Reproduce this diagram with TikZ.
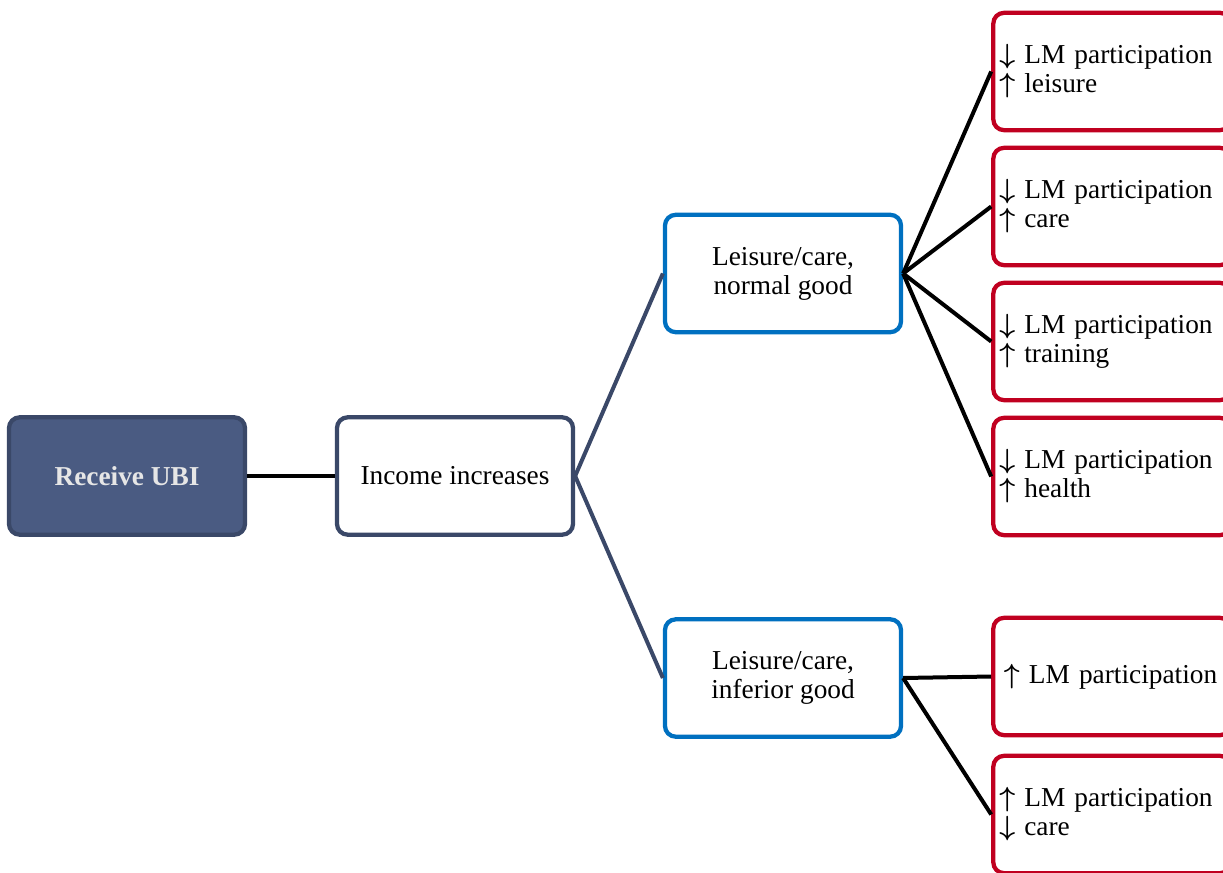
\documentclass[tikz,border=0pt]{standalone}
\usepackage{fontspec}
\setmainfont{Liberation Serif}
\newcommand{\dnarr}{{\boldmath$\downarrow$}}
\newcommand{\uparr}{{\boldmath$\uparrow$}}
\definecolor{ubifill}{HTML}{4A5B82}
\definecolor{navy}{HTML}{3A4868}
\definecolor{bluebox}{HTML}{0070C0}
\definecolor{redbox}{HTML}{C00020}
\definecolor{ubitext}{HTML}{E6E6E6}
\tikzset{
  box/.style={rectangle, rounded corners=8pt, line width=3.2pt, fill=white,
    minimum width=177pt, minimum height=88pt, align=center,
    font=\fontsize{20.5}{21.8}\selectfont},
  ubibox/.style={box, draw=navy, fill=ubifill, text=ubitext, font=\fontsize{20.5}{21.8}\selectfont\bfseries},
  incbox/.style={box, draw=navy},
  goodbox/.style={box, draw=bluebox},
  effbox/.style={box, draw=redbox, align=left, text width=169pt, inner xsep=4.5pt},
  link/.style={line width=3pt, black},
  navylink/.style={line width=3pt, navy},
}
\begin{document}
\begin{tikzpicture}[x=0.75pt,y=-0.75pt]
\useasboundingbox (0,0) rectangle (1223,873);
\clip (0,0) rectangle (1223,873);
% main chain
\node[ubibox] (ubi) at (127,476) {Receive UBI};
\node[incbox] (inc) at (455,476) {Income increases};
\node[goodbox] (norm) at (783,273.5) {Leisure/care,\\normal good};
\node[goodbox] (inf) at (783,678) {Leisure/care,\\inferior good};
% outcomes
\node[effbox] (r1) at (1112,71.5) {\dnarr\ LM participation\\\uparr\ leisure};
\node[effbox] (r2) at (1112,206.5) {\dnarr\ LM participation\\\uparr\ care};
\node[effbox] (r3) at (1112,341.5) {\dnarr\ LM participation\\\uparr\ training};
\node[effbox] (r4) at (1112,476.5) {\dnarr\ LM participation\\\uparr\ health};
\node[effbox] (r5) at (1112,676.5) {\,\uparr\ LM participation};
\node[effbox] (r6) at (1112,814.5) {\uparr\ LM participation\\\dnarr\ care};
% connectors
\draw[link] (ubi.east) -- (inc.west);
\draw[navylink] (inc.east) -- (norm.west);
\draw[navylink] (inc.east) -- (inf.west);
\foreach \r in {r1,r2,r3,r4} \draw[link] (norm.east) -- (\r.west);
\foreach \r in {r5,r6} \draw[link] (inf.east) -- (\r.west);
\end{tikzpicture}
\end{document}
